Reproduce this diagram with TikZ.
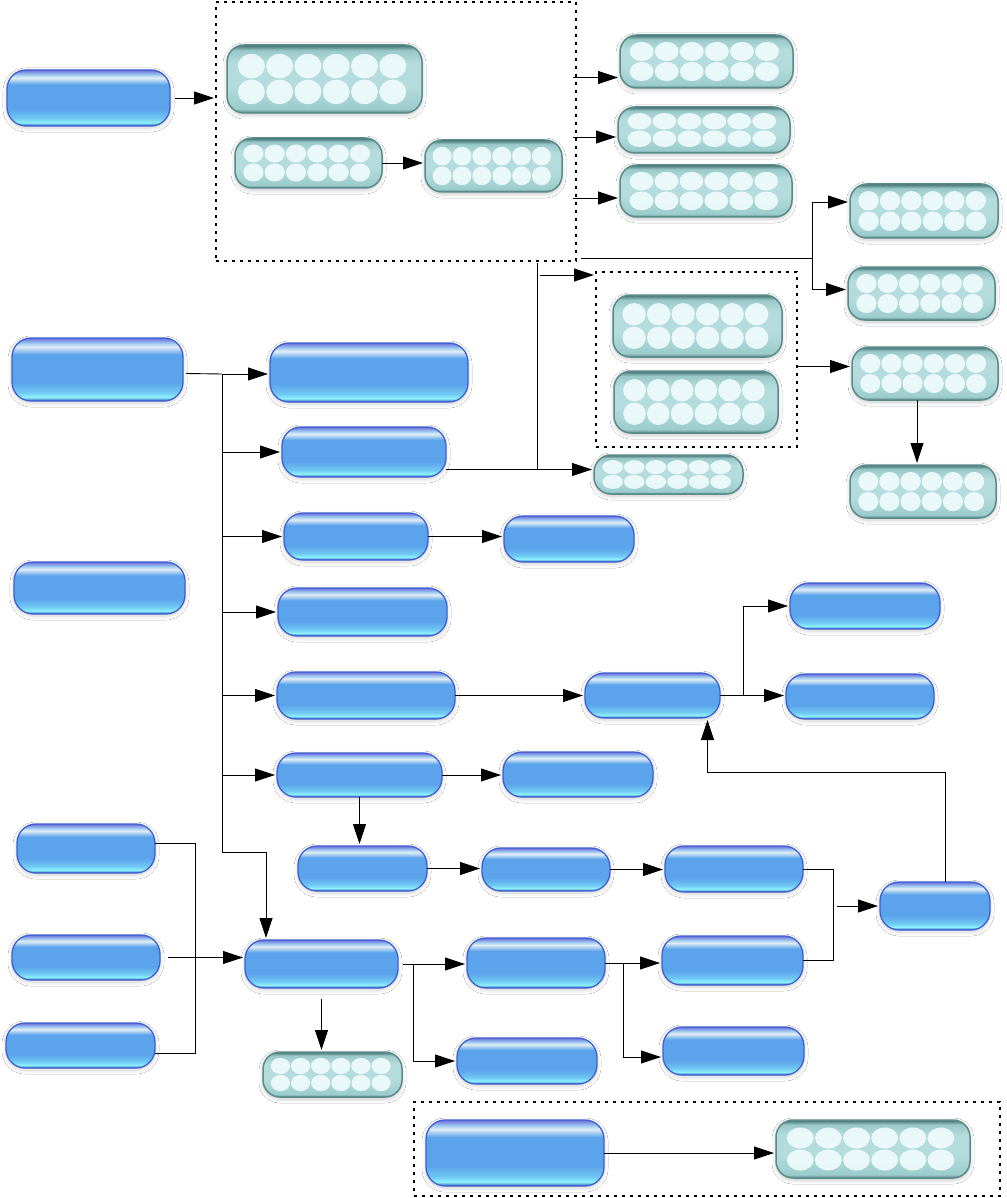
\documentclass[tikz,border=0pt]{standalone}
\usetikzlibrary{arrows.meta,shadows.blur,calc}
\definecolor{bgB}{HTML}{2A50C0}
\definecolor{bgC}{HTML}{8EF2FC}
\definecolor{bgL}{HTML}{70C8F4}
\definecolor{bgM}{HTML}{5BA3EA}
\definecolor{bgW}{HTML}{E2EEF6}
\definecolor{bgM2}{HTML}{9CC8F0}
\definecolor{bgT}{HTML}{6C6CDC}
\definecolor{bgEdge}{HTML}{3F5FD2}
\definecolor{tgB}{HTML}{5A8888}
\definecolor{tgL}{HTML}{9CCCCC}
\definecolor{tgM}{HTML}{B4DCDC}
\definecolor{tgL2}{HTML}{9AC8C8}
\definecolor{tgT}{HTML}{3F6F6F}
\definecolor{tgEdge}{HTML}{5A8A8A}
\definecolor{blob}{HTML}{F4FEFF}
\pgfdeclareverticalshading{bluegloss}{100bp}{color(0bp)=(bgB); color(25bp)=(bgB); color(28bp)=(bgC); color(32bp)=(bgL); color(40bp)=(bgM); color(62bp)=(bgM); color(68bp)=(bgW); color(71bp)=(bgM2); color(75bp)=(bgT); color(100bp)=(bgT)}
\pgfdeclareverticalshading{tealgloss}{100bp}{color(0bp)=(tgB); color(25bp)=(tgB); color(28bp)=(tgL); color(45bp)=(tgM); color(62bp)=(tgM); color(71bp)=(tgL2); color(75bp)=(tgT); color(100bp)=(tgT)}
\tikzset{
  bluebox/.style={rounded corners=19pt, draw=bgEdge, line width=1.3pt, shading=bluegloss, inner sep=0pt, outer sep=0pt,
    blur shadow={shadow blur steps=6, shadow xshift=0pt, shadow yshift=-2pt, shadow opacity=18, shadow blur radius=4pt}},
  tealbox/.style={rounded corners=17pt, draw=tgEdge, line width=1.5pt, shading=tealgloss, inner sep=0pt, outer sep=0pt,
    blur shadow={shadow blur steps=6, shadow xshift=0pt, shadow yshift=-2pt, shadow opacity=22, shadow blur radius=4pt},
    path picture={
      \foreach \i in {0,...,5}{\foreach \j in {0.31,0.69}{
        \path[fill=blob, fill opacity=0.85] let \p1=(path picture bounding box.north west), \p2=(path picture bounding box.south east) in
          ({\x1+(\x2-\x1)*(0.125+0.145*\i)},{\y1-(\y1-\y2)*\j}) ellipse [x radius={(\x2-\x1)*0.069}, y radius={(\y1-\y2)*0.18}];
      }}
    }},
  dashbox/.style={draw=black, line width=2.4pt, dash pattern=on 3pt off 5pt, inner sep=0pt, outer sep=0pt},
  arr/.style={line width=0.9pt, -{Triangle[length=20pt,width=13pt]}, shorten >=2pt},
  ln/.style={line width=0.9pt}
}
\newcommand\bluenode[5]{\node[bluebox, minimum width={(#4-#2)*1pt}, minimum height={(#5-#3)*1pt}] (#1) at ({(#2+#4)/2},{(#3+#5)/2}) {};}
\newcommand\tealnode[5]{\node[tealbox, minimum width={(#4-#2)*1pt}, minimum height={(#5-#3)*1pt}] (#1) at ({(#2+#4)/2},{(#3+#5)/2}) {};}
\newcommand\dashnode[5]{\node[dashbox, minimum width={(#4-#2)*1pt}, minimum height={(#5-#3)*1pt}] (#1) at ({(#2+#4)/2},{(#3+#5)/2}) {};}
\begin{document}
\begin{tikzpicture}[x=1pt,y=-1pt]
\useasboundingbox[fill=white] (0,0) rectangle (1006,1198);
% dashed groups
\dashnode{D1}{216}{2}{576}{261}
\dashnode{D2}{596}{272}{797}{447}
\dashnode{D3}{414}{1102}{1000}{1196}
% blue nodes
\bluenode{B1}{7}{70}{170}{126}
\bluenode{B2}{12}{338}{183}{401}
\bluenode{B3}{270}{343}{468}{402}
\bluenode{B4}{282}{427}{446}{477}
\bluenode{B5}{284}{513}{428}{560}
\bluenode{B6}{504}{516}{634}{562}
\bluenode{B7}{14}{562}{185}{614}
\bluenode{B8}{278}{588}{447}{636}
\bluenode{B9}{277}{672}{455}{719}
\bluenode{B10}{585}{673}{720}{718}
\bluenode{B11}{790}{583}{940}{629}
\bluenode{B12}{786}{674}{934}{719}
\bluenode{B13}{277}{753}{442}{797}
\bluenode{B14}{503}{752}{653}{797}
\bluenode{B15}{298}{846}{427}{891}
\bluenode{B16}{482}{848}{610}{891}
\bluenode{B17}{665}{846}{803}{892}
\bluenode{B18}{880}{882}{990}{930}
\bluenode{B19}{17}{824}{155}{873}
\bluenode{B20}{12}{935}{160}{980}
\bluenode{B21}{6}{1023}{155}{1068}
\bluenode{B22}{245}{940}{398}{988}
\bluenode{B23}{467}{938}{605}{988}
\bluenode{B24}{662}{936}{803}{985}
\bluenode{B25}{457}{1038}{597}{1084}
\bluenode{B26}{663}{1027}{804}{1075}
\bluenode{B27}{426}{1120}{604}{1186}
% teal nodes
\tealnode{T1}{227}{45}{422}{113}
\tealnode{T2}{235}{138}{382}{188}
\tealnode{T3}{425}{140}{562}{192}
\tealnode{T4}{620}{35}{793}{88}
\tealnode{T5}{618}{107}{790}{153}
\tealnode{T6}{620}{165}{792}{217}
\tealnode{T7}{850}{184}{998}{238}
\tealnode{T8}{848}{267}{995}{320}
\tealnode{T9}{852}{347}{998}{400}
\tealnode{T10}{850}{465}{996}{518}
\tealnode{T11}{613}{295}{782}{357}
\tealnode{T12}{614}{371}{778}{433}
\tealnode{T13}{594}{455}{743}{494}
\tealnode{T14}{263}{1052}{402}{1097}
\tealnode{T15}{776}{1120}{970}{1178}
% helper coordinates
\coordinate (a4) at ([yshift=-16pt]T4.west);
\coordinate (a5) at ([yshift=-7pt]T5.west);
\coordinate (a6) at ([yshift=-7pt]T6.west);
\coordinate (j1) at (812,258);
\coordinate (a7) at ([yshift=9pt]T7.west);
\coordinate (a8) at ([yshift=4pt]T8.west);
\coordinate (a13) at ([yshift=5pt]T13.west);
\coordinate (j2) at (537,263);
\coordinate (a2) at ([yshift=-3pt]D2.north west);
\coordinate (a9) at ([yshift=7pt]T9.west);
\coordinate (t0) at (222,374);
\coordinate (t1) at (222,852);
\coordinate (t2) at (266,852);
\coordinate (j3) at ([xshift=23pt]B10.east);
\coordinate (j4) at ([xshift=30pt]B17.east);
\coordinate (j5) at ([xshift=10pt,yshift=110pt]B18.north);
\coordinate (a10) at ([xshift=55pt]B10.south);
\coordinate (j6) at (195,843);
\coordinate (j6b) at (195,1053);
\coordinate (j7) at ([xshift=15pt]B22.east);
\coordinate (j8) at ([xshift=18pt]B23.east);
% connectors top
\draw[arr] ([xshift=5pt]B1.east) -- (B1.east -| D1.west);
\draw[arr] (T2.east) -- (T2.east -| T3.west);
\draw[arr] ([xshift=-3pt]D1.east |- a4) -- (a4);
\draw[arr] ([xshift=-3pt]D1.east |- a5) -- (a5);
\draw[arr] ([xshift=-3pt]D1.east |- a6) -- (a6);
\draw[ln] ([xshift=5pt]D1.south east |- j1) -- (j1);
\draw[ln] (j1 |- a7) -- (j1 |- a8);
\draw[arr] (j1 |- a7) -- (a7);
\draw[arr] (j1 |- a8) -- (a8);
\draw[arr] (B4.east |- a13) -- (a13);
\draw[ln] (j2) -- (j2 |- a13);
\draw[arr] ([xshift=3pt]j2 |- a2) -- (a2);
\draw[arr] (D2.east |- a9) -- (a9);
\draw[arr] ([xshift=-8pt]T9.south) -- ([xshift=-8pt]T9.south |- T10.north);
% trunk from B2
\draw[ln] ([xshift=3pt,yshift=-4pt]B2.east) -- (t0);
\draw[ln] (t0) -- (t1);
\draw[arr] (t0) -- (t0 -| B3.west);
\draw[arr] (t0 |- B4.west) -- (B4.west);
\draw[arr] (t0 |- B5.west) -- (B5.west);
\draw[arr] (t0 |- B8.west) -- (B8.west);
\draw[arr] (t0 |- B9.west) -- (B9.west);
\draw[arr] (t0 |- B13.west) -- (B13.west);
\draw[arr] (t1) -- (t2) -- (t2 |- B22.north);
% middle
\draw[arr] (B5.east) -- (B5.east -| B6.west);
\draw[arr] (B9.east) -- (B9.east -| B10.west);
\draw[ln] (B10.east) -- (j3);
\draw[arr] (j3) -- (j3 -| B12.west);
\draw[arr] (j3) |- (B11.west);
\draw[arr] (B13.east) -- (B13.east -| B14.west);
\draw[arr] (B13.south) -- (B13.south |- B15.north);
\draw[arr] (B15.east) -- (B15.east -| B16.west);
\draw[arr] (B16.east) -- (B16.east -| B17.west);
\draw[ln] (B17.east) -- (j4) -- (j4 |- B24.east) -- (B24.east);
\draw[arr] ([xshift=4pt]j4 |- B18.west) -- (B18.west);
\draw[arr] ([xshift=10pt]B18.north) -- (j5) -| (a10);
% bottom left
\draw[ln] (B19.east |- j6) -- (j6) -- (j6b) -- (B21.east |- j6b);
\draw[arr] ([xshift=8pt]B20.east) -- (B20.east -| B22.west);
\draw[ln] ([xshift=5pt]B22.east) -- (j7);
\draw[arr] (j7) -- (j7 -| B23.west);
\draw[arr] (j7) |- (B25.west);
\draw[arr] ([yshift=-11pt]B22.south) -- (B22.south |- T14.north);
\draw[ln] (B23.east) -- (j8);
\draw[arr] (j8) -- (j8 -| B24.west);
\draw[arr] (j8) |- ([yshift=-6pt]B26.west);
\draw[arr] (B27.east) -- (B27.east -| T15.west);
\end{tikzpicture}
\end{document}
